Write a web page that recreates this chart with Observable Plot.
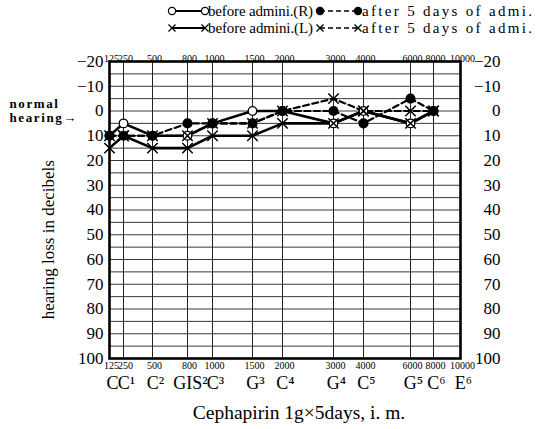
<!DOCTYPE html>
<html><head><meta charset="utf-8">
<script src="https://cdn.jsdelivr.net/npm/d3@7"></script>
<script src="https://cdn.jsdelivr.net/npm/@observablehq/plot@0.6"></script>
<style>
body{margin:0;background:#fff;}
#wrap{position:relative;width:536px;height:429px;overflow:hidden;}
#wrap svg{position:absolute;left:0;top:0;}
</style></head><body><div id="wrap"></div>
<script>
// ---- data ----
const freqs = [125, 250, 500, 800, 1000, 1500, 2000, 3000, 4000, 6000, 8000];
const gridFreqs = [125, 250, 500, 800, 1000, 1500, 2000, 3000, 4000, 6000, 8000, 10000];
const freqLabels = ["125", "250", "500", "800", "1000", "1500", "2000", "3000", "4000", "6000", "8000", "10000"];
const noteLabels = ["C", "C¹", "C²", "GIS²", "C³", "G³", "C⁴", "G⁴", "C⁵", "G⁵", "C⁶", "E⁶"];
const dbTicks = [-20, -10, 0, 10, 20, 30, 40, 50, 60, 70, 80, 90, 100];
const dbGrid = [-20, -15, -10, -5, 0, 5, 10, 15, 20, 25, 30, 35, 40, 45, 50, 55, 60, 65, 70, 75, 80, 85, 90, 95, 100];
const beforeR = [10, 5, 10, 10, 5, 0, 0, 5, 0, 5, 0];
const afterR  = [10, 10, 10, 5, 5, 5, 0, 0, 5, -5, 0];
const beforeL = [15, 10, 15, 15, 10, 10, 5, 5, 0, 5, 0];
const afterL  = [10, 10, 10, 10, 5, 5, 0, -5, 0, 0, 0];
const seriesNames = ["before admini.(R)", "after 5 days of admi.", "before admini.(L)", "after 5 days of admi."];
const yTitle = "hearing loss in decibels";
const normalLines = ["normal", "hearing→"];
const caption = "Cephapirin 1g×5days, i. m.";

const F = "Liberation Serif, Times New Roman, serif";
const fmt = d => d < 0 ? "−" + (-d) : String(d);
const pts = arr => arr.map((v, i) => ({f: freqs[i], v}));

const chart = Plot.plot({
  width: 536, height: 429,
  marginLeft: 109, marginRight: 76, marginTop: 61, marginBottom: 71,
  style: {fontFamily: F, background: "transparent", color: "black"},
  x: {type: "linear", domain: gridFreqs, range: [109, 123, 152, 187, 212, 252, 282, 333, 363, 410, 433, 460], axis: null},
  y: {domain: [-20, 100], reverse: true, axis: null},
  marks: [
    Plot.ruleY(dbGrid, {y: d => d, stroke: "#222", strokeWidth: 0.9}),
    Plot.ruleX(gridFreqs, {x: d => d, stroke: "#222", strokeWidth: 1}),
    Plot.frame({stroke: "black", strokeWidth: 2.6}),
    // series lines
    Plot.line(pts(beforeL), {x: "f", y: "v", stroke: "black", strokeWidth: 2.6}),
    Plot.line(pts(afterL), {x: "f", y: "v", stroke: "black", strokeWidth: 2.2, strokeDasharray: "6,3.5"}),
    Plot.line(pts(beforeR), {x: "f", y: "v", stroke: "black", strokeWidth: 2.6}),
    Plot.line(pts(afterR), {x: "f", y: "v", stroke: "black", strokeWidth: 2.2, strokeDasharray: "6,3.5"}),
    // markers
    Plot.dot(pts(beforeR), {x: "f", y: "v", r: 4.3, fill: "white", stroke: "black", strokeWidth: 1.3}),
    Plot.dot(pts(afterR), {x: "f", y: "v", r: 4.3, fill: "black", stroke: "black"}),
    Plot.dot(pts(beforeL), {x: "f", y: "v", r: 4.8, symbol: "times", stroke: "black", strokeWidth: 1.5}),
    Plot.dot(pts(afterL), {x: "f", y: "v", r: 4.8, symbol: "times", stroke: "black", strokeWidth: 1.5}),
    // y tick labels
    Plot.text(dbTicks, {y: d => d, text: fmt, frameAnchor: "left", textAnchor: "end", dx: -6, fontSize: 17}),
    Plot.text(dbTicks, {y: d => d, text: fmt, frameAnchor: "right", textAnchor: "end", dx: 40, fontSize: 17}),
    // frequency labels top / bottom
    Plot.text(gridFreqs, {x: d => d, text: (d, i) => freqLabels[i], frameAnchor: "top", dy: -7, dx: 2, fontSize: 10}),
    Plot.text(gridFreqs, {x: d => d, text: (d, i) => freqLabels[i], frameAnchor: "bottom", dy: 10, dx: 2, fontSize: 10}),
    // note names
    Plot.text(gridFreqs, {x: d => d, text: (d, i) => noteLabels[i], frameAnchor: "bottom", dy: 30, dx: 3, fontSize: 18}),
    // titles
    Plot.text([52], {y: d => d, text: () => yTitle, frameAnchor: "left", textAnchor: "middle", dx: -61, rotate: -90, fontSize: 17}),
    Plot.text([0], {y: d => d, text: () => normalLines[0], frameAnchor: "left", dx: -100, dy: -7, textAnchor: "start", fontSize: 13, fontWeight: "bold"}),
    Plot.text([0], {y: d => d, text: () => normalLines[1], frameAnchor: "left", dx: -100, dy: 7, textAnchor: "start", fontSize: 13, fontWeight: "bold"}),
    Plot.text([caption], {frameAnchor: "bottom", dy: 60, dx: 14, fontSize: 19.5})
  ]
});
document.getElementById("wrap").appendChild(chart);
d3.select(chart).selectAll("text").filter(function () { return this.textContent === "normal" || this.textContent === "hearing→"; })
  .style("letter-spacing", "1.6px");

// ---- legend ----
const leg = d3.select("#wrap").append("svg").attr("width", 536).attr("height", 40)
  .style("font-family", F);
const items = [
  {row: 0, col: 0, sym: "open", dash: null},
  {row: 0, col: 1, sym: "fill", dash: "5,3"},
  {row: 1, col: 0, sym: "x", dash: null},
  {row: 1, col: 1, sym: "x", dash: "5,3"}
];
const cols = [{x1: 172, x2: 205, tx: 208, tl: 105}, {x1: 320, x2: 358, tx: 362, tl: 170}];
const rowsY = [11, 28];
items.forEach((it, i) => {
  const c = cols[it.col], y = rowsY[it.row];
  leg.append("line").attr("x1", c.x1).attr("x2", c.x2).attr("y1", y).attr("y2", y)
    .attr("stroke", "black").attr("stroke-width", it.dash ? 1.6 : 2.2).attr("stroke-dasharray", it.dash);
  [c.x1, c.x2].forEach(x => {
    if (it.sym === "x") {
      leg.append("path").attr("d", `M${x-3.5},${y-3.5}L${x+3.5},${y+3.5}M${x-3.5},${y+3.5}L${x+3.5},${y-3.5}`)
        .attr("stroke", "black").attr("stroke-width", 1.3);
    } else {
      leg.append("circle").attr("cx", x).attr("cy", y).attr("r", 3.6)
        .attr("fill", it.sym === "fill" ? "black" : "white").attr("stroke", "black").attr("stroke-width", 1.2);
    }
  });
  leg.append("text").attr("x", c.tx).attr("y", y + 5).attr("font-size", 15)
    .attr("textLength", c.tl).attr("lengthAdjust", "spacing").text(seriesNames[i]);
});
</script></body></html>
